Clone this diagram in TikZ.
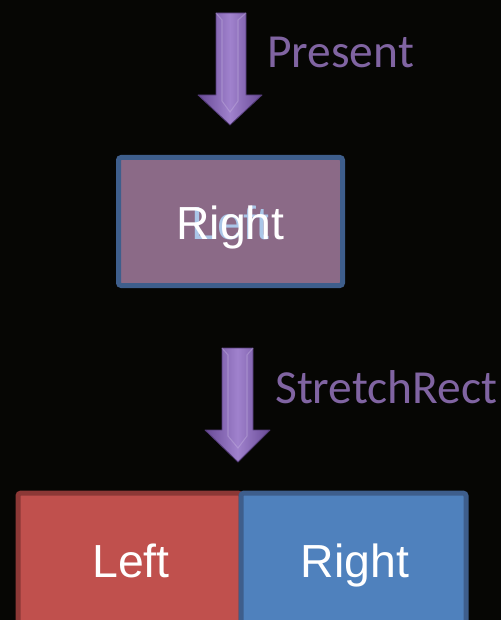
\documentclass[tikz,border=0pt]{standalone}
\usepackage{fontspec}
\setmainfont{Liberation Sans}
\newfontfamily\calibri{Carlito}
\definecolor{bgdark}{RGB}{6,6,4}
\definecolor{labelpurple}{RGB}{128,100,162}
\definecolor{arrowdark}{RGB}{104,74,150}
\definecolor{arrowlight}{RGB}{160,130,205}
\definecolor{mauvefill}{RGB}{139,106,135}
\definecolor{boxblueline}{RGB}{62,94,140}
\definecolor{redfill}{RGB}{192,80,77}
\definecolor{redline}{RGB}{140,56,54}
\definecolor{bluefill}{RGB}{79,129,189}
\definecolor{ghostblue}{RGB}{170,198,232}
\tikzset{
  labeltext/.style={font=\calibri\fontsize{35.6pt}{41pt}\selectfont, text=labelpurple, inner sep=0pt},
  boxtext/.style={font=\fontsize{34.8pt}{40pt}\selectfont, text=white, inner sep=0pt},
  blockarrow/.style={left color=arrowdark, right color=arrowdark, middle color=arrowlight, draw=arrowdark!80!black, line width=0.6pt, line join=round},
  bevel/.style={draw=arrowlight!60!white, line width=0.8pt, opacity=0.4},
  stagebox/.style={rectangle, rounded corners=2pt, line width=3.75pt, inner sep=0pt}
}
\begin{document}
\begin{tikzpicture}[x=0.75pt,y=-0.75pt]
  % page and background
  \fill[bgdark] (0,0) rectangle (501,620);
  \useasboundingbox (0,0) rectangle (501,620);
  \clip (0,0) rectangle (501,620);

  % first block arrow
  \path[blockarrow] (216,13) -- (246,13) -- (246,95) -- (262,95) -- (230,125)
        -- (198,95) -- (216,95) -- cycle;
  \draw[bevel] (216,13) -- (222,20) -- (222,101) -- (230,112) -- (238,101) -- (238,20) -- (246,13);
  \node[labeltext, anchor=base west] (present) at (267,68) {Present};

  % intermediate box: the two labels drawn on top of each other
  \node[stagebox, draw=boxblueline, fill=mauvefill, minimum width=168pt, minimum height=96pt]
        (mid) at (230.5,221.5) {};
  \node[boxtext, text=ghostblue, anchor=base] (midleft) at (230.5,239) {Left};
  \node[boxtext, anchor=base] (midright) at (230.5,239) {Right};

  % second block arrow
  \path[blockarrow] (222,348) -- (253,348) -- (253,430) -- (270,430) -- (238,462)
        -- (205,430) -- (222,430) -- cycle;
  \draw[bevel] (222,348) -- (228,355) -- (228,436) -- (238,448) -- (247,436) -- (247,355) -- (253,348);
  \node[labeltext, anchor=base west] (stretch) at (275,403) {StretchRect};

  % final pair of boxes
  \node[stagebox, draw=redline, fill=redfill, minimum width=167.25pt, minimum height=125pt]
        (leftbox) at (129.5,576.5) {};
  \node[stagebox, draw=boxblueline, fill=bluefill, minimum width=168.75pt, minimum height=125pt]
        (rightbox) at (353.5,576.5) {};
  \node[boxtext, anchor=base] (lefttext) at (131,577) {Left};
  \node[boxtext, anchor=base] (righttext) at (355,577) {Right};
\end{tikzpicture}
\end{document}
